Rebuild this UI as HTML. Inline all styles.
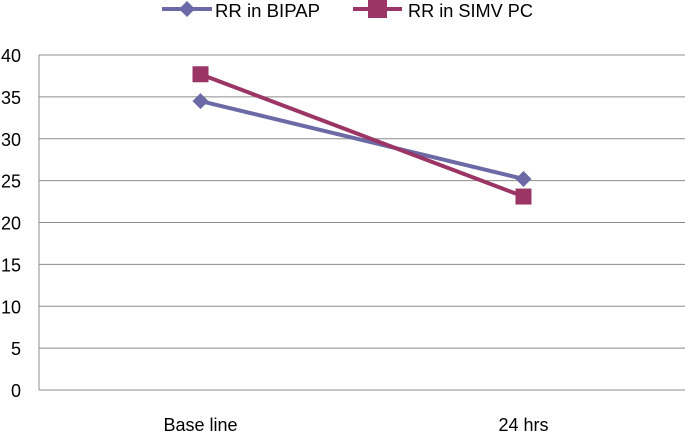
<!DOCTYPE html>
<html><head><meta charset="utf-8"><style>
body{margin:0;background:#fff;}
text{font-family:"Liberation Sans",sans-serif;fill:#000;}
</style></head><body>
<svg width="685" height="431" xmlns="http://www.w3.org/2000/svg">
<g id="grid"></g><g id="series"></g>
<g>
<g>
<line x1="162" y1="9" x2="212" y2="9" stroke="#6b6aa6" stroke-width="4"/>
<path d="M187 1 L195 9 L187 17 L179 9Z" fill="#6b6aa6"/>
<text x="215" y="17" font-size="18" textLength="105" lengthAdjust="spacingAndGlyphs">RR in BIPAP</text></g>
<g>
<line x1="353" y1="9" x2="402" y2="9" stroke="#9b3565" stroke-width="4"/>
<rect x="368" y="0" width="19" height="18" fill="#9b3565"/>
<text x="408" y="17" font-size="18" textLength="125" lengthAdjust="spacingAndGlyphs">RR in SIMV PC</text></g>
</g>
</svg>
<script>
const categories=["Base line","24 hrs"];
const bipap=[34.5,25.2];
const simv=[37.7,23.1];
const yTicks=[0,5,10,15,20,25,30,35,40];
const NS="http://www.w3.org/2000/svg";
const L=39,R=685,T=55,B=390;
const y=v=>B-(v/40)*(B-T);
const x=i=>L+(R-L)*(i+0.5)/categories.length;
function mk(t,a,p){const e=document.createElementNS(NS,t);for(const k in a)e.setAttribute(k,a[k]);p.appendChild(e);return e;}
const g=document.getElementById('grid');
yTicks.forEach(v=>{
 const l=mk('line',{x1:L,x2:R,y1:y(v),y2:y(v),stroke:'#8c8c8c','stroke-width':1},g);
 
 
 const t=mk('text',{x:21,y:y(v)+7,'font-size':18,'text-anchor':'end'},g);t.textContent=v;
 
 
});
const ax=mk('line',{x1:L,x2:L,y1:T,y2:B,stroke:'#8c8c8c'},g);


categories.forEach((c,i)=>{
 const t=mk('text',{x:x(i),y:431,'font-size':18,'text-anchor':'middle'},g);t.textContent=c;
 
 
});
const s=document.getElementById('series');
function draw(vals,col,name,marker){
 const p=mk('polyline',{points:vals.map((v,i)=>x(i)+','+y(v)).join(' '),fill:'none',stroke:col,'stroke-width':4},s);
 
 
 vals.forEach((v,i)=>{
  let m;
  if(marker==='d') m=mk('path',{d:`M${x(i)} ${y(v)-8} L${x(i)+8} ${y(v)} L${x(i)} ${y(v)+8} L${x(i)-8} ${y(v)}Z`,fill:col},s);
  else m=mk('rect',{x:x(i)-8,y:y(v)-8,width:16,height:16,fill:col},s);
  
  
 });
}
draw(bipap,'#6b6aa6','bipap','d');
draw(simv,'#9b3565','simv','s');
</script>
</body></html>
